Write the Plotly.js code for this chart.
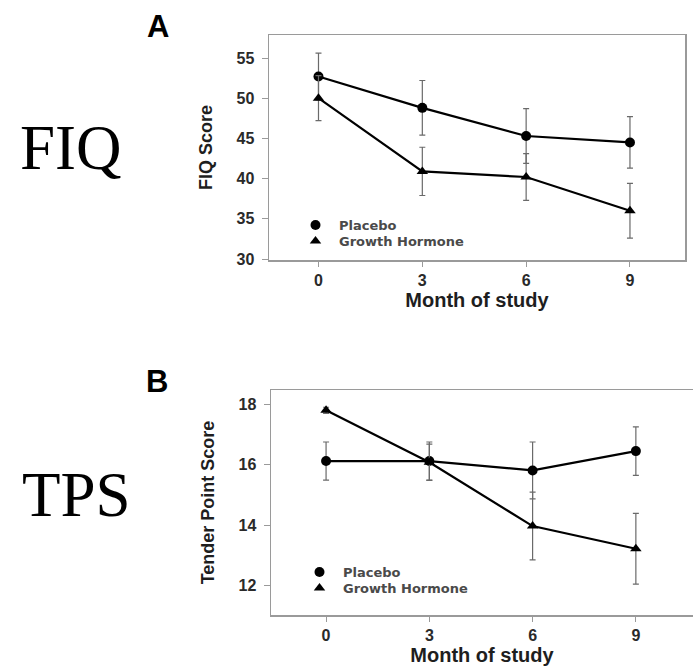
<!DOCTYPE html>
<html>
<head>
<meta charset="utf-8">
<script src="https://cdn.plot.ly/plotly-3.0.1.min.js"></script>
<style>
  html, body { margin: 0; padding: 0; background: #fff; }
  #chart { width: 693px; height: 669px; }
</style>
</head>
<body>
<div id="chart"></div>
<script>
// ---- data ----
var months = [0, 3, 6, 9];
var monthTicks = ['0', '3', '6', '9'];
var seriesNames = ['Placebo', 'Growth Hormone'];

// Panel A: FIQ score
var fiqPlacebo = [52.7, 48.8, 45.3, 44.5];
var fiqPlaceboErr = [2.9, 3.4, 3.4, 3.2];
var fiqGH = [50.0, 40.9, 40.2, 36.0];
var fiqGHErr = [2.8, 3.0, 2.9, 3.4];
var fiqTicks = [30, 35, 40, 45, 50, 55];

// Panel B: Tender point score
var tpsPlacebo = [16.12, 16.12, 15.81, 16.45];
var tpsPlaceboErr = [0.63, 0.63, 0.94, 0.8];
var tpsGH = [17.80, 16.08, 13.97, 13.22];
var tpsGHErr = [0.1, 0.6, 1.12, 1.17];
var tpsTicks = [12, 14, 16, 18];

// ---- styling helpers ----
var W = 693, H = 669;
function px(x) { return x / W; }
function py(y) { return 1 - y / H; }

var lineStyle = { color: '#000', width: 2.2 };
var errStyle = function (arr) {
  return { type: 'data', array: arr, visible: true, color: '#6a6a6a', thickness: 1.2, width: 3 };
};

function lineTrace(y, xa, ya) {
  return { x: months, y: y, xaxis: xa, yaxis: ya, mode: 'lines', line: lineStyle,
           showlegend: false, hoverinfo: 'skip' };
}
function markTrace(y, err, name, symbol, size, xa, ya, legend) {
  return { x: months, y: y, xaxis: xa, yaxis: ya, mode: 'markers', name: name,
           legend: legend,
           marker: { symbol: symbol, size: size, color: '#000' },
           error_y: errStyle(err) };
}

var traces = [
  lineTrace(fiqPlacebo, 'x', 'y'),
  lineTrace(fiqGH, 'x', 'y'),
  markTrace(fiqPlacebo, fiqPlaceboErr, seriesNames[0], 'circle', 10, 'x', 'y', 'legend'),
  markTrace(fiqGH, fiqGHErr, seriesNames[1], 'triangle-up', 10, 'x', 'y', 'legend3'),
  lineTrace(tpsPlacebo, 'x2', 'y2'),
  lineTrace(tpsGH, 'x2', 'y2'),
  markTrace(tpsPlacebo, tpsPlaceboErr, seriesNames[0], 'circle', 10, 'x2', 'y2', 'legend2'),
  markTrace(tpsGH, tpsGHErr, seriesNames[1], 'triangle-up', 10, 'x2', 'y2', 'legend4')
];

var tickFont = { family: 'Liberation Sans, Arial, sans-serif', size: 16, color: '#2a2a2a', weight: 'bold' };
var titleFont = { family: 'Liberation Sans, Arial, sans-serif', size: 18, color: '#1e1e1e', weight: 'bold' };
var xTitleFont = { family: 'Liberation Sans, Arial, sans-serif', size: 20, color: '#1e1e1e', weight: 'bold' };
var legendFont = { family: 'DejaVu Sans, sans-serif', size: 13, color: '#4a4a4a', weight: 'bold' };

function xAxis(domain, range, anchor) {
  return {
    domain: domain, range: range, anchor: anchor,
    tickmode: 'array', tickvals: months, ticktext: monthTicks,
    showline: true, linecolor: '#9a9a9a', linewidth: 1.5, mirror: true,
    ticks: 'outside', ticklen: 5, tickcolor: '#9a9a9a', tickwidth: 1,
    showgrid: false, zeroline: false, tickfont: tickFont,
    title: { text: 'Month of study', font: xTitleFont, standoff: 4 }
  };
}
function yAxis(domain, range, anchor, ticks, title) {
  return {
    domain: domain, range: range, anchor: anchor,
    tickmode: 'array', tickvals: ticks,
    showline: true, linecolor: '#9a9a9a', linewidth: 1.5, mirror: true,
    ticks: 'outside', ticklen: 6, tickcolor: '#9a9a9a', tickwidth: 1,
    ticklabelstandoff: 4,
    showgrid: false, zeroline: false, tickfont: tickFont,
    title: { text: title, font: titleFont, standoff: 19 }
  };
}
function legendAt(xLeft, yMid) {
  return { x: px(xLeft), y: py(yMid), xanchor: 'left', yanchor: 'middle',
           bgcolor: 'rgba(0,0,0,0)', font: legendFont, itemwidth: 37 };
}

var layout = {
  width: W, height: H,
  margin: { l: 0, r: 0, t: 0, b: 0 },
  paper_bgcolor: '#fff', plot_bgcolor: '#fff',
  xaxis: xAxis([px(269), px(685)], [-1.43, 10.59], 'y'),
  yaxis: yAxis([py(260), py(35)], [29.88, 57.86], 'x', fiqTicks, 'FIQ Score'),
  xaxis2: xAxis([px(271), 1], [-1.6, 10.66], 'y2'),
  yaxis2: yAxis([py(615), py(390)], [11.03, 18.47], 'x2', tpsTicks, 'Tender Point Score'),
  legend: legendAt(292, 225),
  legend3: legendAt(292, 241),
  legend2: legendAt(296, 572),
  legend4: legendAt(296, 588),
  annotations: [
    { text: 'A', x: px(158), y: py(26), xref: 'paper', yref: 'paper', showarrow: false,
      xanchor: 'center', yanchor: 'middle',
      font: { family: 'Liberation Sans, Arial, sans-serif', size: 31, color: '#000', weight: 'bold' } },
    { text: 'B', x: px(157), y: py(381), xref: 'paper', yref: 'paper', showarrow: false,
      xanchor: 'center', yanchor: 'middle',
      font: { family: 'Liberation Sans, Arial, sans-serif', size: 31, color: '#000', weight: 'bold' } },
    { text: 'FIQ', x: px(18), y: py(148), xref: 'paper', yref: 'paper', showarrow: false,
      xanchor: 'left', yanchor: 'middle',
      font: { family: 'Liberation Serif, Times New Roman, serif', size: 63, color: '#000' } },
    { text: 'TPS', x: px(20), y: py(495), xref: 'paper', yref: 'paper', showarrow: false,
      xanchor: 'left', yanchor: 'middle',
      font: { family: 'Liberation Serif, Times New Roman, serif', size: 63, color: '#000' } }
  ]
};

Plotly.newPlot('chart', traces, layout, { displayModeBar: false, staticPlot: true });
</script>
</body>
</html>
